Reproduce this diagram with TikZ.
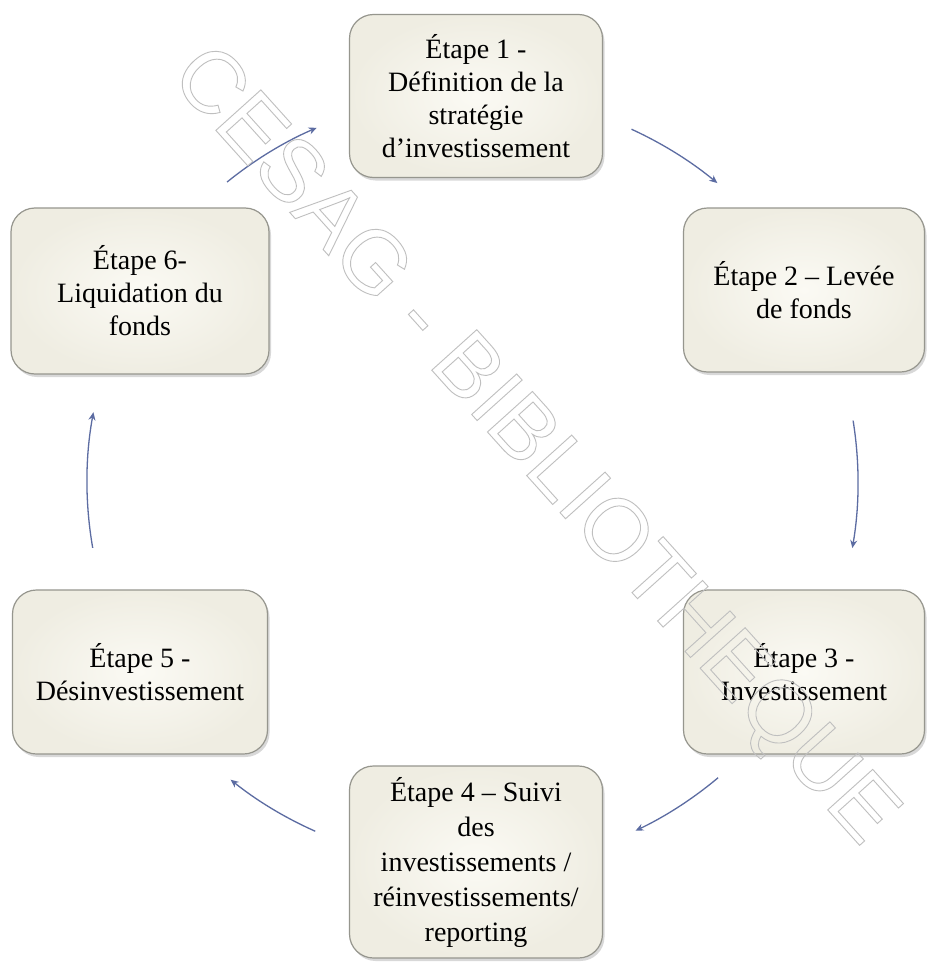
\documentclass[tikz,border=0pt]{standalone}
\usepackage{fontspec}
\setmainfont{Liberation Serif}
\newfontfamily\wmfont{Liberation Sans}
\usetikzlibrary{calc,shadows,arrows.meta}
\definecolor{boxin}{RGB}{251,250,244}
\definecolor{boxout}{RGB}{239,237,226}
\definecolor{boxline}{RGB}{150,150,142}
\definecolor{arrcol}{RGB}{92,108,162}
\begin{document}
\begin{tikzpicture}[x=1pt,y=-1pt,
  stepbox/.style={rectangle, rounded corners=24pt, draw=boxline, line width=1.2pt,
    inner color=boxin, outer color=boxout, align=center,
    font=\fontsize{28}{33}\selectfont,
    drop shadow={opacity=0.3, shadow xshift=2pt, shadow yshift=-3pt}},
  arr/.style={draw=arrcol, line width=1.3pt, -{Stealth[length=8pt,width=7pt]}}]
\useasboundingbox (0,0) rectangle (926,963);
\fill[white] (0,0) rectangle (926,963);
\coordinate (C) at (470,482);
% boxes
\node[stepbox, minimum width=253pt, minimum height=163pt] (b1) at (476,96)
  {Étape 1 -\\Définition de la\\stratégie\\d’investissement};
\node[stepbox, minimum width=241pt, minimum height=164pt] (b2) at (804,290)
  {Étape 2 – Levée\\de fonds};
\node[stepbox, minimum width=241pt, minimum height=164pt] (b3) at (804,672)
  {Étape 3 -\\Investissement};
\node[stepbox, minimum width=253pt, minimum height=192pt,
  font=\fontsize{28}{35}\selectfont] (b4) at (476,862)
  {Étape 4 – Suivi\\des\\investissements /\\réinvestissements/\\reporting};
\node[stepbox, minimum width=255pt, minimum height=164pt] (b5) at (140,672)
  {Étape 5 -\\Désinvestissement};
\node[stepbox, minimum width=258pt, minimum height=166pt] (b6) at (140,291)
  {Étape 6-\\Liquidation du\\fonds};
% arrow end points on the circle
\coordinate (a1s) at ($(C)+(-129:386)$);
\coordinate (a2s) at ($(C)+(-65.4:388)$);
\coordinate (a3s) at ($(C)+(-9.1:388)$);
\coordinate (a4s) at ($(C)+(50:386)$);
\coordinate (a5s) at ($(C)+(113.9:382)$);
\coordinate (a6s) at ($(C)+(170.1:383)$);
\draw[arr] (a1s) arc[start angle=-129, end angle=-113.4, radius=386];
\draw[arr] (a2s) arc[start angle=-65.4, end angle=-50.4, radius=388];
\draw[arr] (a3s) arc[start angle=-9.1, end angle=9.8, radius=388];
\draw[arr] (a4s) arc[start angle=50, end angle=64.6, radius=386];
\draw[arr] (a5s) arc[start angle=113.9, end angle=128.8, radius=382];
\draw[arr] (a6s) arc[start angle=170.1, end angle=190.5, radius=383];
% watermark
\node[text=gray!50, rotate=-48, inner sep=0pt] (wm) at (532,448)
  {\wmfont\fontsize{88}{88}\selectfont\special{pdf:literal 1 Tr 0.9 w}CESAG - BIBLIOTHEQUE\special{pdf:literal 0 Tr}};
\end{tikzpicture}
\end{document}
